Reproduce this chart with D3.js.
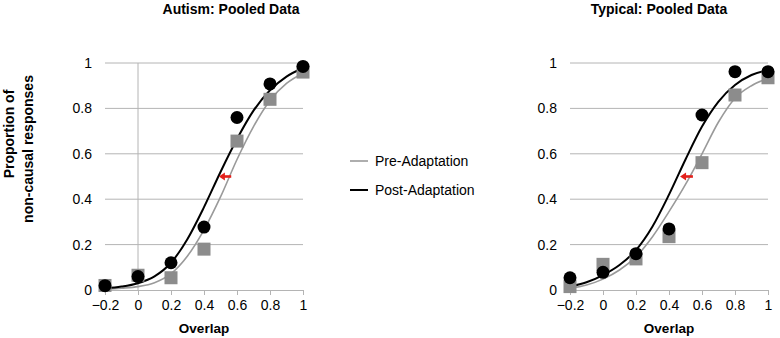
<!DOCTYPE html>
<html>
<head>
<meta charset="utf-8">
<script src="https://cdn.jsdelivr.net/npm/d3@7"></script>
<style>
  body { margin: 0; background: #fff; }
  text { font-family: Arial, "Liberation Sans", sans-serif; fill: #000; }
</style>
</head>
<body>
<svg width="780" height="338"></svg>
<script>
// overlap levels and tick labels
let overlap = [-0.2, 0, 0.2, 0.4, 0.6, 0.8, 1];
let xTicks = [-0.2, 0, 0.2, 0.4, 0.6, 0.8, 1];
let yTicks = [0, 0.2, 0.4, 0.6, 0.8, 1];

// observed proportions (markers)
let autismPre = [0.02, 0.065, 0.054, 0.18, 0.656, 0.84, 0.96];
let autismPost = [0.019, 0.059, 0.12, 0.277, 0.76, 0.908, 0.985];
let typicalPre = [0.015, 0.113, 0.137, 0.235, 0.561, 0.859, 0.935];
let typicalPost = [0.054, 0.078, 0.16, 0.269, 0.771, 0.962, 0.962];

// fitted curves
let fitX = [-0.2, -0.1, 0, 0.1, 0.2, 0.3, 0.4, 0.5, 0.6, 0.7, 0.8, 0.9, 1];
let autismPreFit = [0.003, 0.008, 0.015, 0.032, 0.072, 0.15, 0.265, 0.41, 0.575, 0.72, 0.835, 0.91, 0.955];
let autismPostFit = [0.007, 0.015, 0.03, 0.06, 0.12, 0.225, 0.365, 0.52, 0.665, 0.79, 0.88, 0.94, 0.978];
let typicalPreFit = [0.007, 0.022, 0.048, 0.088, 0.147, 0.235, 0.345, 0.465, 0.6, 0.74, 0.845, 0.9, 0.932];
let typicalPostFit = [0.015, 0.034, 0.066, 0.11, 0.176, 0.28, 0.42, 0.575, 0.72, 0.83, 0.903, 0.947, 0.969];

// shift arrows at 50%: from pre to post threshold
let autismShift = [0.565, 0.49];
let typicalShift = [0.545, 0.467];

let titles = ["Autism: Pooled Data", "Typical: Pooled Data"];
let legendLabels = ["Pre-Adaptation", "Post-Adaptation"];

let svg = d3.select("svg");

let panels = [
  {title: titles[0], pre: autismPre, post: autismPost, preFit: autismPreFit, postFit: autismPostFit,
   shift: autismShift, left: 105, titleX: 231, zeroLine: true},
  {title: titles[1], pre: typicalPre, post: typicalPost, preFit: typicalPreFit, postFit: typicalPostFit,
   shift: typicalShift, left: 570, titleX: 659, zeroLine: false}
];

let plotW = 198, plotTop = 63, plotBottom = 290;
let grey = "#8c8c8c", lineGrey = "#9a9a9a", gridCol = "#b4b4b4";

panels.forEach(p => {
  let x = d3.scaleLinear().domain([-0.2, 1]).range([p.left, p.left + plotW]);
  let y = d3.scaleLinear().domain([0, 1]).range([plotBottom, plotTop]);
  let g = svg.append("g");

  // gridlines
  g.selectAll(".grid")
    .data(yTicks.filter(d => d > 0))
    .enter().append("line")
    .attr("x1", x(-0.2)).attr("x2", x(1))
    .attr("y1", d => y(d)).attr("y2", d => y(d))
    .attr("stroke", gridCol).attr("stroke-width", 1);

  if (p.zeroLine) {
    g.append("line")
      .attr("x1", x(0)).attr("x2", x(0))
      .attr("y1", y(1)).attr("y2", y(0))
      .attr("stroke", gridCol).attr("stroke-width", 1);
  }

  // x axis
  let xAxis = d3.axisBottom(x).tickValues(xTicks).tickSize(5).tickPadding(5)
    .tickFormat(d => d3.format("")(+d.toFixed(1)));
  let xa = g.append("g").attr("transform", "translate(0," + plotBottom + ")").call(xAxis);
  xa.select(".domain").attr("stroke", gridCol);
  xa.selectAll(".tick line").attr("stroke", gridCol);
  xa.selectAll("text").style("font-size", "14px").attr("fill", "#000");

  // y axis labels only
  let yAxis = d3.axisLeft(y).tickValues(yTicks).tickSize(0).tickPadding(13)
    .tickFormat(d => d3.format("")(+d.toFixed(1)));
  let ya = g.append("g").attr("transform", "translate(" + p.left + ",0)").call(yAxis);
  ya.select(".domain").remove();
  ya.selectAll("text").style("font-size", "14px").attr("fill", "#000");

  // fitted curves
  let line = d3.line().x((d, i) => x(fitX[i])).y(d => y(d)).curve(d3.curveMonotoneX);
  g.append("path").attr("d", line(p.preFit))
    .attr("fill", "none").attr("stroke", lineGrey).attr("stroke-width", 1.6);
  g.append("path").attr("d", line(p.postFit))
    .attr("fill", "none").attr("stroke", "#000").attr("stroke-width", 2);

  // red shift arrow
  let ay = y(0.5);
  g.append("line")
    .attr("x1", x(p.shift[0])).attr("x2", x(p.shift[1]) + 4)
    .attr("y1", ay).attr("y2", ay)
    .attr("stroke", "#e3201b").attr("stroke-width", 2.6);
  g.append("path")
    .attr("d", "M" + x(p.shift[1]) + "," + ay + "l6,-4l0,8z")
    .attr("fill", "#e3201b");

  // markers: pre squares, post circles on top
  let s = 13;
  g.selectAll(".pre")
    .data(p.pre)
    .enter().append("rect")
    .attr("x", (d, i) => x(overlap[i]) - s / 2)
    .attr("y", d => y(d) - s / 2)
    .attr("width", s).attr("height", s)
    .attr("fill", grey);

  g.selectAll(".post")
    .data(p.post)
    .enter().append("circle")
    .attr("cx", (d, i) => x(overlap[i]))
    .attr("cy", d => y(d))
    .attr("r", 6.5)
    .attr("fill", "#000");

  // titles
  g.append("text")
    .attr("x", p.titleX).attr("y", 13.5)
    .attr("text-anchor", "middle")
    .style("font-size", "14px").style("font-weight", "bold")
    .text(p.title);

  g.append("text")
    .attr("x", x(0.4)).attr("y", 333)
    .attr("text-anchor", "middle")
    .style("font-size", "13.5px").style("font-weight", "bold")
    .text("Overlap");
});

// y axis title (left panel)
let yTitle = svg.append("g");
yTitle.append("text")
  .attr("transform", "translate(14,134) rotate(-90)")
  .attr("text-anchor", "middle")
  .style("font-size", "14px").style("font-weight", "bold")
  .text("Proportion of");
yTitle.append("text")
  .attr("transform", "translate(33,149) rotate(-90)")
  .attr("text-anchor", "middle")
  .style("font-size", "14px").style("font-weight", "bold")
  .text("non-causal responses");

// legend
let legend = svg.append("g");
let legendY = [161, 190];
let legendCol = [lineGrey, "#000"];
legendLabels.forEach((l, i) => {
  legend.append("line")
    .attr("x1", 350).attr("x2", 368)
    .attr("y1", legendY[i]).attr("y2", legendY[i])
    .attr("stroke", legendCol[i]).attr("stroke-width", i ? 2 : 1.6);
  legend.append("text")
    .attr("x", 375).attr("y", legendY[i] + 5)
    .style("font-size", "14px")
    .text(l);
});
</script>
</body>
</html>
